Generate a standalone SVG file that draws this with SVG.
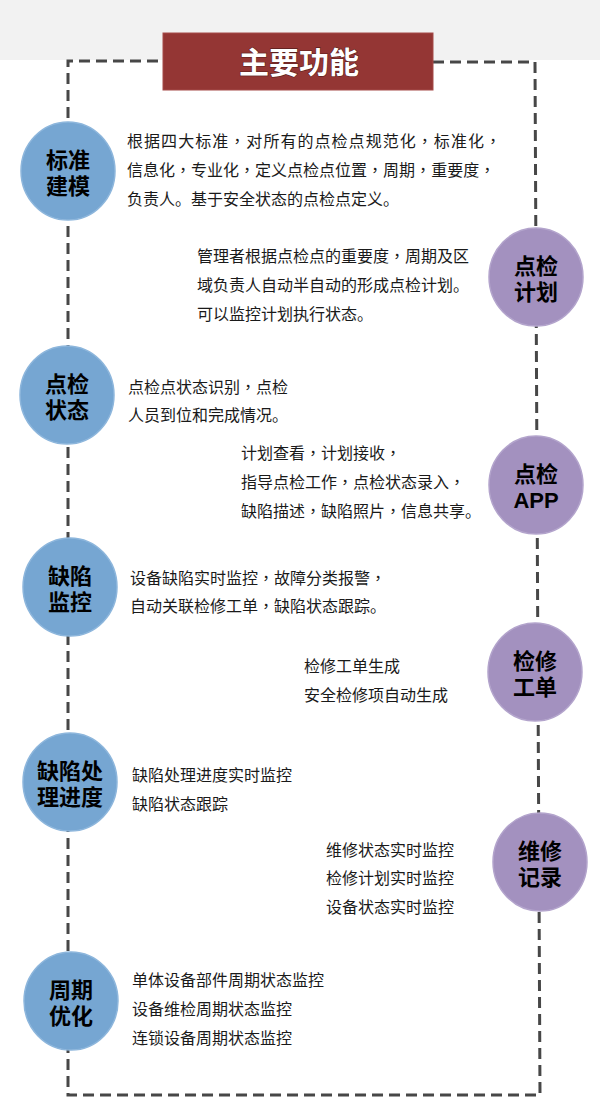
<svg xmlns="http://www.w3.org/2000/svg" width="600" height="1103" viewBox="0 0 600 1103">
<style>
.bg{fill:#f2f2f2}
.conn{fill:none;stroke:#474747;stroke-width:3;stroke-dasharray:11 6}
.blue{fill:#76a6d2;stroke:#8db6dc;stroke-width:1.5}
.purple{fill:#a391bf;stroke:#b3a4cc;stroke-width:1.5}
.lbl{font-family:"Liberation Sans","Noto Sans CJK SC",sans-serif;font-size:22px;font-weight:bold;fill:#000;text-anchor:middle}
.txt{font-family:"Noto Sans CJK SC","Noto Sans",sans-serif;font-size:16px;fill:#1a1a1a}
.c{font-family:"Noto Sans CJK TC","Noto Sans CJK SC",sans-serif}
.title{font-family:"Noto Sans CJK SC","Noto Sans",sans-serif;font-size:30px;font-weight:bold;fill:#fff;text-anchor:middle}
</style>
<rect class="bg" x="0" y="0" width="600" height="60"/>
<g id="connectors">
<path class="conn" d="M433,62 L535,62 L540,1095 L68,1095 L68,61 L163,61"/>
</g>
<g id="title">
<rect x="163" y="33" width="270" height="57" fill="#943634" stroke="#a54a48" stroke-width="1"/>
<text class="title" x="299" y="73" stroke="#5a1e1d" stroke-width="1.2" paint-order="stroke">主要功能</text>
</g>
<g id="n1">
<ellipse class="blue" cx="68" cy="171" rx="47" ry="49"/>
<text class="lbl"><tspan x="68" y="168">标准</tspan><tspan x="68" y="194">建模</tspan></text>
<text class="txt" x="127" y="147" textLength="374" lengthAdjust="spacing">根据四大标准<tspan class="c">，</tspan>对所有的点检点规范化<tspan class="c">，</tspan>标准化<tspan class="c">，</tspan></text>
<text class="txt" x="127" y="176">信息化<tspan class="c">，</tspan>专业化<tspan class="c">，</tspan>定义点检点位置<tspan class="c">，</tspan>周期<tspan class="c">，</tspan>重要度<tspan class="c">，</tspan></text>
<text class="txt" x="127" y="205">负责人。基于安全状态的点检点定义。</text>
</g>
<g id="n2">
<ellipse class="purple" cx="536" cy="277" rx="47" ry="49"/>
<text class="lbl"><tspan x="536" y="274">点检</tspan><tspan x="536" y="300">计划</tspan></text>
<text class="txt" x="197" y="262">管理者根据点检点的重要度<tspan class="c">，</tspan>周期及区</text>
<text class="txt" x="197" y="291">域负责人自动半自动的形成点检计划。</text>
<text class="txt" x="197" y="320">可以监控计划执行状态。</text>
</g>
<g id="n3">
<ellipse class="blue" cx="67" cy="395" rx="47" ry="49"/>
<text class="lbl"><tspan x="67" y="392">点检</tspan><tspan x="67" y="418">状态</tspan></text>
<text class="txt" x="128" y="393">点检点状态识别<tspan class="c">，</tspan>点检</text>
<text class="txt" x="128" y="421">人员到位和完成情况。</text>
</g>
<g id="n4">
<ellipse class="purple" cx="536" cy="485" rx="47" ry="49"/>
<text class="lbl"><tspan x="536" y="482">点检</tspan><tspan x="536" y="508">APP</tspan></text>
<text class="txt" x="241" y="459">计划查看<tspan class="c">，</tspan>计划接收<tspan class="c">，</tspan></text>
<text class="txt" x="241" y="488">指导点检工作<tspan class="c">，</tspan>点检状态录入<tspan class="c">，</tspan></text>
<text class="txt" x="241" y="517">缺陷描述<tspan class="c">，</tspan>缺陷照片<tspan class="c">，</tspan>信息共享。</text>
</g>
<g id="n5">
<ellipse class="blue" cx="70" cy="587" rx="47" ry="49"/>
<text class="lbl"><tspan x="70" y="584">缺陷</tspan><tspan x="70" y="610">监控</tspan></text>
<text class="txt" x="130" y="584">设备缺陷实时监控<tspan class="c">，</tspan>故障分类报警<tspan class="c">，</tspan></text>
<text class="txt" x="130" y="612">自动关联检修工单<tspan class="c">，</tspan>缺陷状态跟踪。</text>
</g>
<g id="n6">
<ellipse class="purple" cx="535" cy="672" rx="47" ry="49"/>
<text class="lbl"><tspan x="535" y="669">检修</tspan><tspan x="535" y="695">工单</tspan></text>
<text class="txt" x="304" y="672">检修工单生成</text>
<text class="txt" x="304" y="701">安全检修项自动生成</text>
</g>
<g id="n7">
<ellipse class="blue" cx="70" cy="782" rx="47" ry="49"/>
<text class="lbl"><tspan x="70" y="779">缺陷处</tspan><tspan x="70" y="805">理进度</tspan></text>
<text class="txt" x="132" y="781">缺陷处理进度实时监控</text>
<text class="txt" x="132" y="810">缺陷状态跟踪</text>
</g>
<g id="n8">
<ellipse class="purple" cx="540" cy="862" rx="47" ry="49"/>
<text class="lbl"><tspan x="540" y="859">维修</tspan><tspan x="540" y="885">记录</tspan></text>
<text class="txt" x="326" y="856">维修状态实时监控</text>
<text class="txt" x="326" y="884">检修计划实时监控</text>
<text class="txt" x="326" y="913">设备状态实时监控</text>
</g>
<g id="n9">
<ellipse class="blue" cx="71" cy="1001" rx="47" ry="49"/>
<text class="lbl"><tspan x="71" y="998">周期</tspan><tspan x="71" y="1024">优化</tspan></text>
<text class="txt" x="132" y="986">单体设备部件周期状态监控</text>
<text class="txt" x="132" y="1015">设备维检周期状态监控</text>
<text class="txt" x="132" y="1044">连锁设备周期状态监控</text>
</g>
</svg>
